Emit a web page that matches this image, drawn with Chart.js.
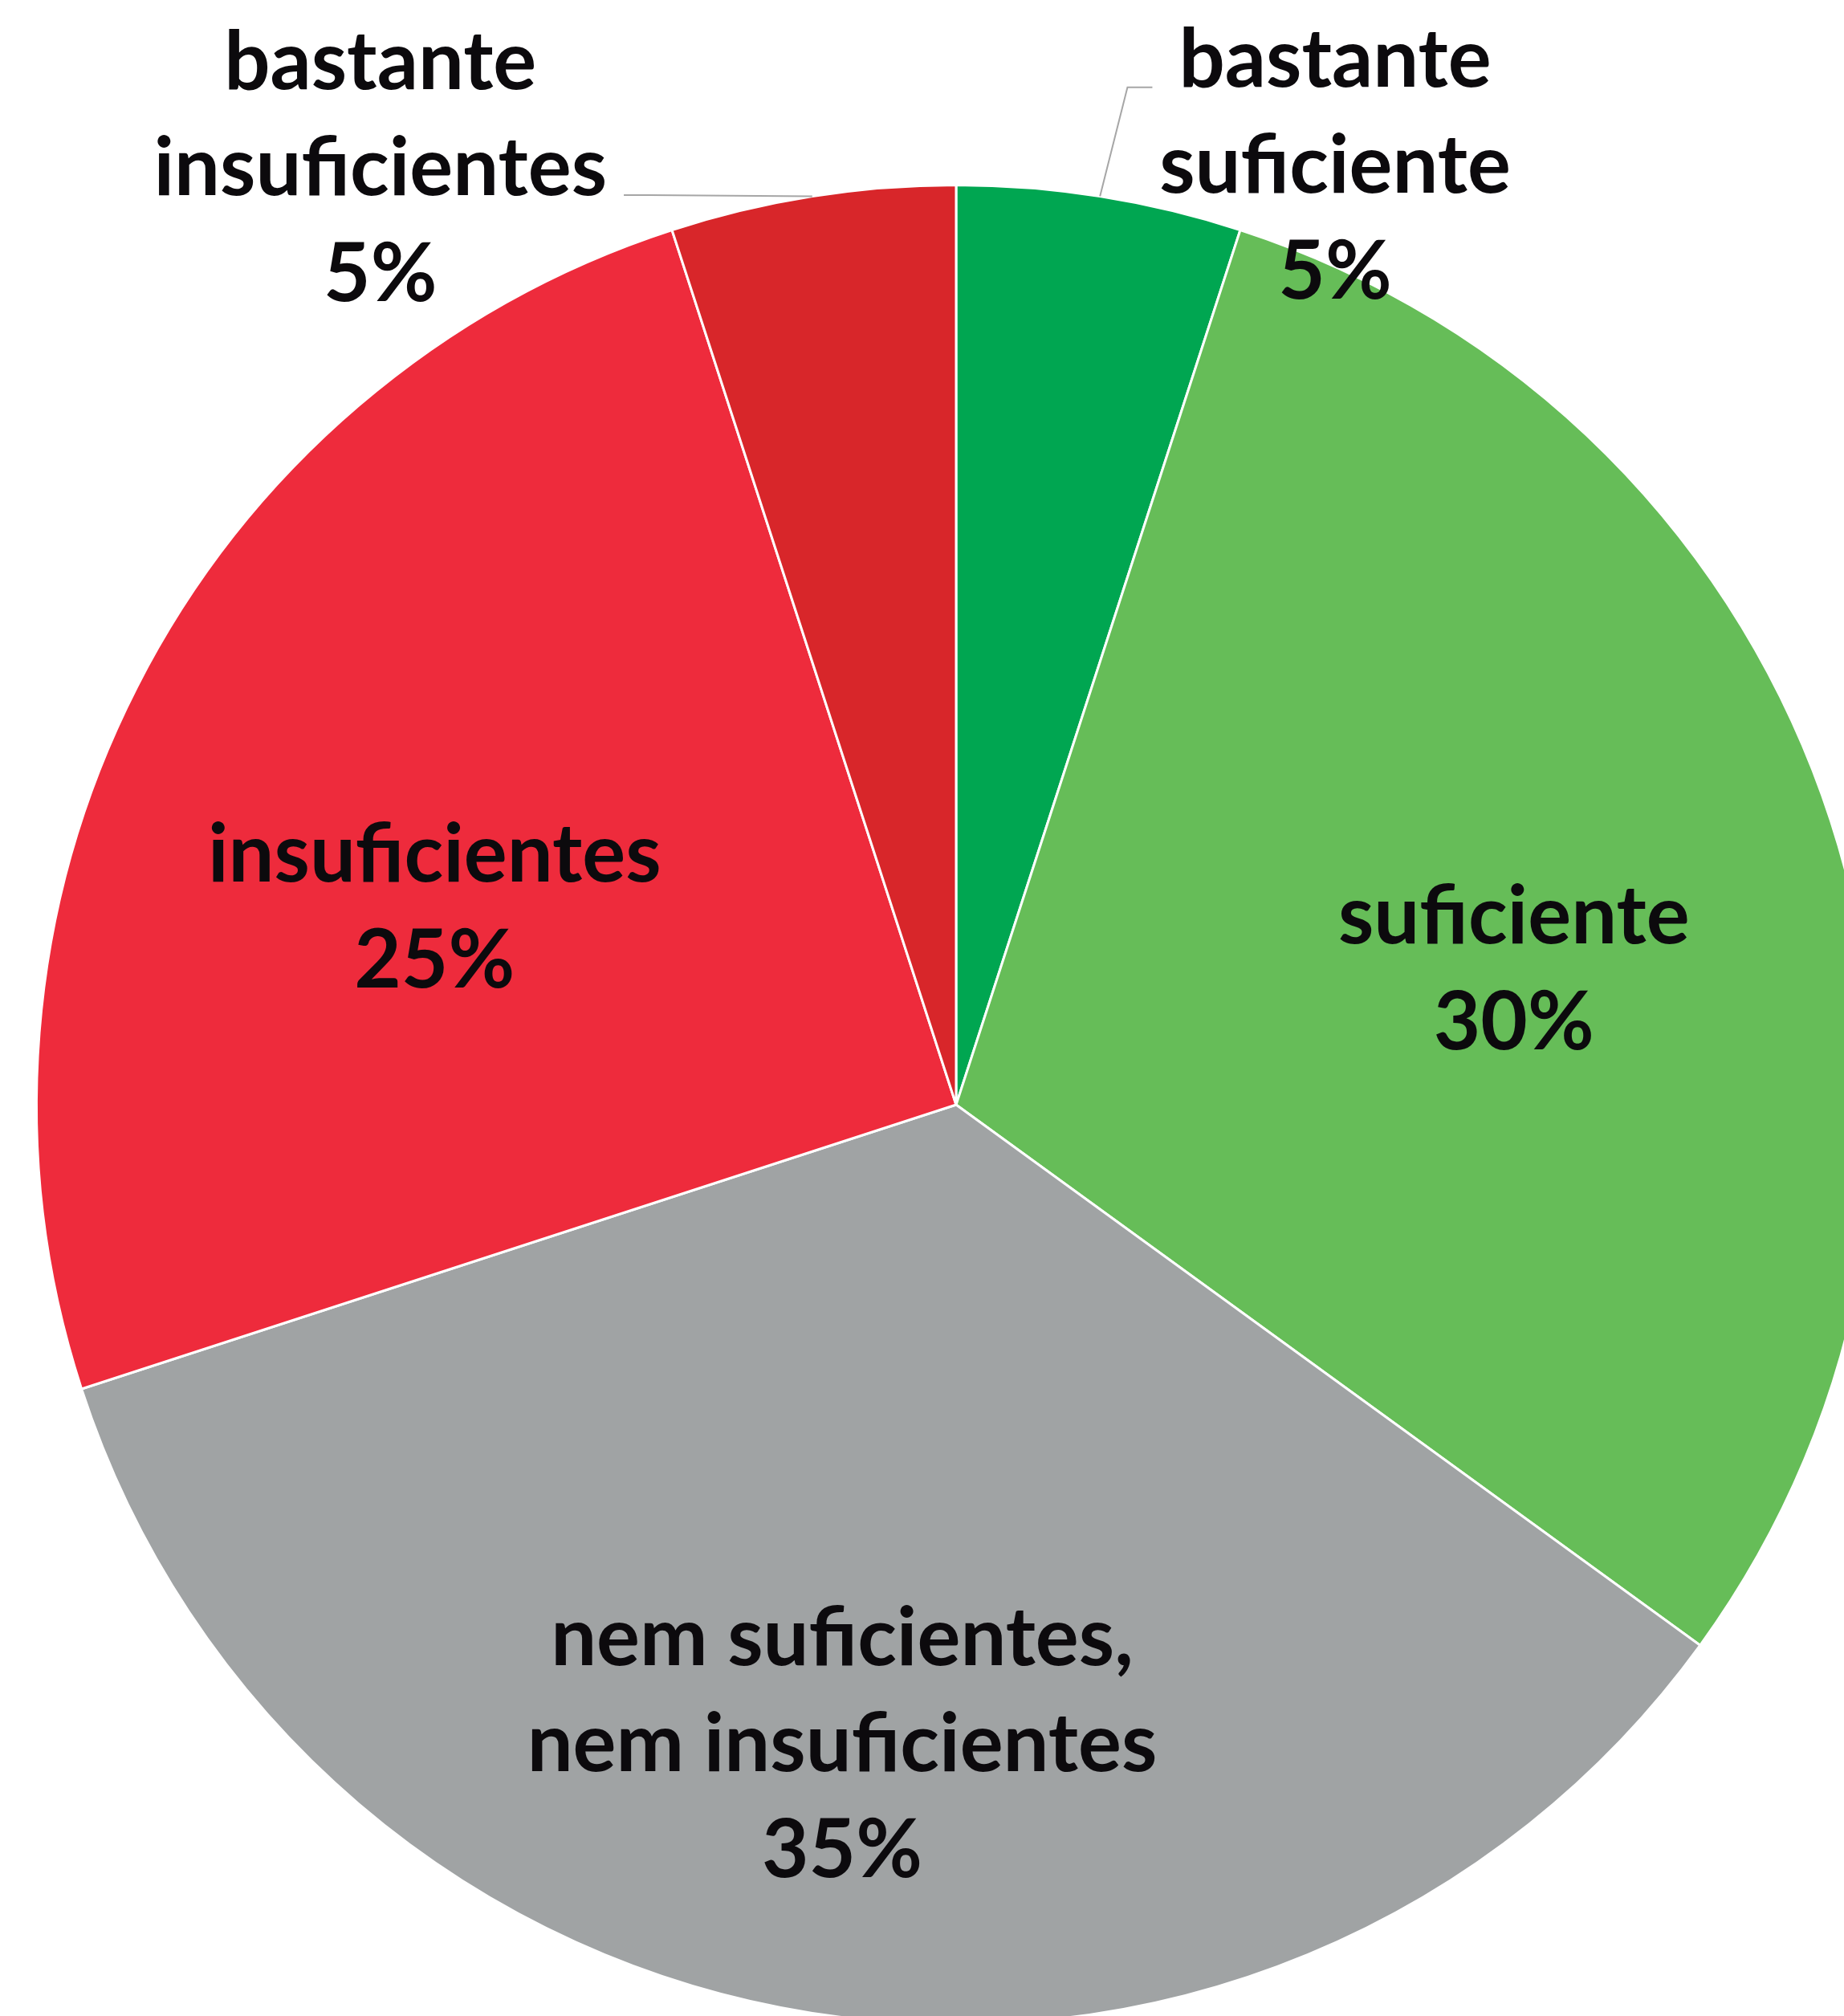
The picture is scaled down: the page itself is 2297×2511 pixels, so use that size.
<!DOCTYPE html>
<html>
<head>
<meta charset="utf-8">
<script src="https://cdn.jsdelivr.net/npm/chart.js@4/dist/chart.umd.min.js"></script>
<style>
  html, body { margin: 0; padding: 0; background: #fff; overflow: hidden; }
  #wrap { width: 2297px; height: 2511px; overflow: hidden; position: relative; }
  canvas { position: absolute; left: 0; top: 0; }
</style>
</head>
<body>
<div id="wrap"><canvas id="pizza" width="2400" height="2600"></canvas></div>
<script>
// dados do gráfico (sentido horário a partir do topo)
const categorias = [
  ['bastante', 'suficiente'],
  ['suficiente'],
  ['nem suficientes,', 'nem insuficientes'],
  ['insuficientes'],
  ['bastante', 'insuficientes']
];
const percentuais = [5, 30, 35, 25, 5];
const cores = ['#00a651', '#66bd58', '#a0a3a4', '#ee2b3c', '#d8262a'];

// onde fica cada rótulo: fração do raio e desvio do ângulo médio (graus)
const posRotulos = [
  { r: 1.10, da: 13, leader: { side: 'left', line: 0 } },
  { r: 0.624, da: 4.4 },
  { r: 0.707, da: 1.1 },
  { r: 0.606, da: -6.4 },
  { r: 1.195, da: -22.6, leader: { side: 'right', line: 1 } }
];

const FONTE = 'bold 101px Lato';
const ALTURA_LINHA = 132;

const rotulosPlugin = {
  id: 'rotulos',
  afterDraw(chart) {
    const ctx = chart.ctx;
    const meta = chart.getDatasetMeta(0);
    ctx.save();
    ctx.font = FONTE;
    ctx.textAlign = 'center';
    ctx.textBaseline = 'middle';
    meta.data.forEach((arc, i) => {
      const p = arc.getProps(['x', 'y', 'startAngle', 'endAngle', 'outerRadius'], true);
      const meio = (p.startAngle + p.endAngle) / 2;
      const cfg = posRotulos[i];
      const a = meio + cfg.da * Math.PI / 180;
      const cx = p.x + Math.cos(a) * p.outerRadius * cfg.r;
      const cy = p.y + Math.sin(a) * p.outerRadius * cfg.r;
      const linhas = categorias[i].concat([percentuais[i] + '%']);
      const topo = cy - (linhas.length - 1) * ALTURA_LINHA / 2;

      // linha de chamada
      if (cfg.leader) {
        const larg = ctx.measureText(categorias[i][cfg.leader.line]).width;
        const ly = topo + cfg.leader.line * ALTURA_LINHA + 33;
        const bx = p.x + Math.cos(meio) * p.outerRadius;
        const by = p.y + Math.sin(meio) * p.outerRadius;
        let ex, cotovelo;
        if (cfg.leader.side === 'left') {
          ex = cx - larg / 2 - 33;
          cotovelo = ex - 31;
        } else {
          ex = cx + larg / 2 + 21;
          cotovelo = ex + 31;
        }
        ctx.strokeStyle = '#a6a6a6';
        ctx.lineWidth = 2;
        ctx.beginPath();
        ctx.moveTo(bx, by);
        ctx.lineTo(cotovelo, ly);
        ctx.lineTo(ex, ly);
        ctx.stroke();
      }

      ctx.fillStyle = '#0c0a0d';
      linhas.forEach((t, k) => {
        ctx.fillText(t, cx, topo + k * ALTURA_LINHA);
      });
    });
    ctx.restore();
  }
};

new Chart(document.getElementById('pizza'), {
  type: 'pie',
  data: {
    labels: categorias,
    datasets: [{
      data: percentuais,
      backgroundColor: cores,
      borderColor: '#ffffff',
      borderWidth: 3
    }]
  },
  options: {
    responsive: false,
    animation: false,
    layout: { padding: { left: 44, top: 229, right: 62, bottom: 77 } },
    plugins: {
      legend: { display: false },
      tooltip: { enabled: false }
    }
  },
  plugins: [rotulosPlugin]
});
</script>
</body>
</html>
